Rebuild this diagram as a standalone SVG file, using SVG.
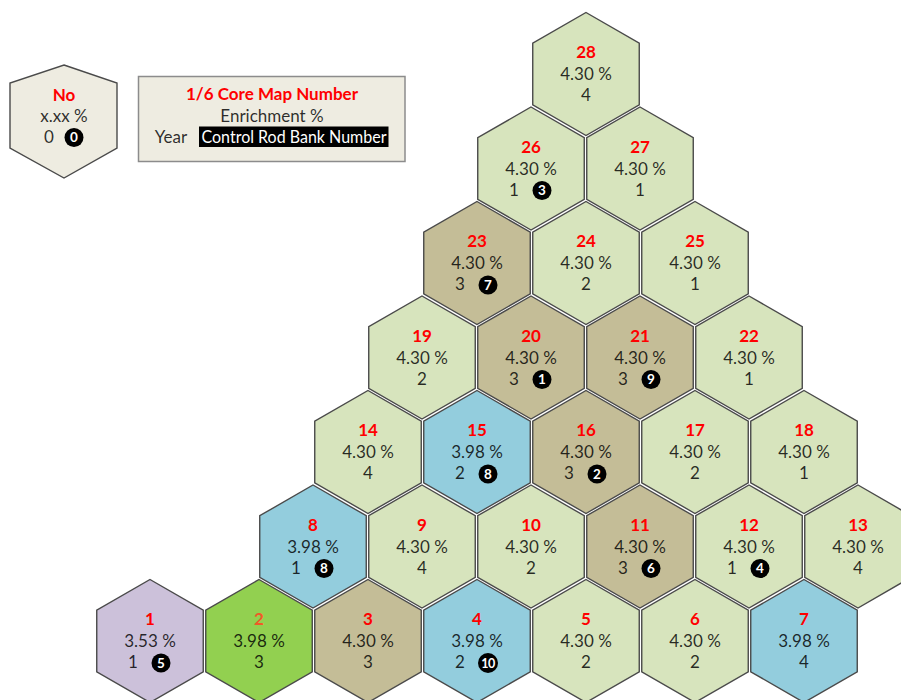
<svg xmlns="http://www.w3.org/2000/svg" xmlns:xlink="http://www.w3.org/1999/xlink" width="901" height="700" viewBox="0 0 901 700">
<style>
.h{stroke:#4a4a4a;stroke-width:1.4}
.lg{fill:#d7e4bd}.tn{fill:#c4bd97}.bl{fill:#93cddd}.pu{fill:#ccc1da}.gr{fill:#92d050}
text{font-family:Lato,"Open Sans","Liberation Sans",sans-serif;font-size:17px;text-anchor:middle}
.n{font-weight:bold;fill:#ff0000}
.t{fill:#000;fill-opacity:0.82}
.c{fill:#000}
.w{fill:#fff;font-weight:bold;font-size:13.5px}
</style>
<defs>
<polygon id="hx" class="h" points="0,-61.5 53.26,-30.75 53.26,30.75 0,61.5 -53.26,30.75 -53.26,-30.75"/>
</defs>
<rect width="901" height="700" fill="#fff"/>
<g id="legend-hex">
<polygon points="64,65 117,83 117,148 64,178 10,148 10,83" fill="#eeece1" stroke="#4a4a4a" stroke-width="1.4"/>
<text class="n" x="64" y="101">No</text>
<text class="t" x="64" y="122">x.xx %</text>
<text class="t" x="49" y="143">0</text>
<circle class="c" cx="74" cy="137.5" r="9.5"/>
<text class="w" x="74" y="142.3">0</text>
</g>
<g id="legend-box">
<rect x="138.5" y="76.5" width="266.5" height="85" fill="#eeece1" stroke="#8c8c8c" stroke-width="1.5"/>
<text class="n" x="272" y="99.5">1/6 Core Map Number</text>
<text class="t" x="272" y="121.5">Enrichment %</text>
<text class="t" x="171" y="143">Year</text>
<rect x="199" y="126.5" width="189.5" height="20.5" fill="#000"/>
<text x="294" y="143" fill="#fff" textLength="185" lengthAdjust="spacingAndGlyphs">Control Rod Bank Number</text>
</g>
<g id="connectors"></g>
<g id="hex1" transform="translate(150,641)"><use xlink:href="#hx" class="pu"/><text class="n" y="-16">1</text><text class="t" y="6">3.53 %</text><text class="t" x="-17" y="27">1</text><circle class="c" cx="11" cy="22" r="9.5"/><text class="w" x="11" y="26.8">5</text></g>
<g id="hex2" transform="translate(259,641)"><use xlink:href="#hx" class="gr"/><text class="n" y="-16" style="fill:#f05a28">2</text><text class="t" y="6">3.98 %</text><text class="t" y="27">3</text></g>
<g id="hex3" transform="translate(368,641)"><use xlink:href="#hx" class="tn"/><text class="n" y="-16">3</text><text class="t" y="6">4.30 %</text><text class="t" y="27">3</text></g>
<g id="hex4" transform="translate(477,641)"><use xlink:href="#hx" class="bl"/><text class="n" y="-16">4</text><text class="t" y="6">3.98 %</text><text class="t" x="-17" y="27">2</text><circle class="c" cx="11" cy="22" r="10"/><text class="w" x="11" y="26.5" style="font-size:12.5px;letter-spacing:-0.5px">10</text></g>
<g id="hex5" transform="translate(586,641)"><use xlink:href="#hx" class="lg"/><text class="n" y="-16">5</text><text class="t" y="6">4.30 %</text><text class="t" y="27">2</text></g>
<g id="hex6" transform="translate(695,641)"><use xlink:href="#hx" class="lg"/><text class="n" y="-16">6</text><text class="t" y="6">4.30 %</text><text class="t" y="27">2</text></g>
<g id="hex7" transform="translate(804,641)"><use xlink:href="#hx" class="bl"/><text class="n" y="-16">7</text><text class="t" y="6">3.98 %</text><text class="t" y="27">4</text></g>
<g id="hex8" transform="translate(313,546.5)"><use xlink:href="#hx" class="bl"/><text class="n" y="-16">8</text><text class="t" y="6">3.98 %</text><text class="t" x="-17" y="27">1</text><circle class="c" cx="11" cy="22" r="9.5"/><text class="w" x="11" y="26.8">8</text></g>
<g id="hex9" transform="translate(422,546.5)"><use xlink:href="#hx" class="lg"/><text class="n" y="-16">9</text><text class="t" y="6">4.30 %</text><text class="t" y="27">4</text></g>
<g id="hex10" transform="translate(531,546.5)"><use xlink:href="#hx" class="lg"/><text class="n" y="-16">10</text><text class="t" y="6">4.30 %</text><text class="t" y="27">2</text></g>
<g id="hex11" transform="translate(640,546.5)"><use xlink:href="#hx" class="tn"/><text class="n" y="-16">11</text><text class="t" y="6">4.30 %</text><text class="t" x="-17" y="27">3</text><circle class="c" cx="11" cy="22" r="9.5"/><text class="w" x="11" y="26.8">6</text></g>
<g id="hex12" transform="translate(749,546.5)"><use xlink:href="#hx" class="lg"/><text class="n" y="-16">12</text><text class="t" y="6">4.30 %</text><text class="t" x="-17" y="27">1</text><circle class="c" cx="11" cy="22" r="9.5"/><text class="w" x="11" y="26.8">4</text></g>
<g id="hex13" transform="translate(858,546.5)"><use xlink:href="#hx" class="lg"/><text class="n" y="-16">13</text><text class="t" y="6">4.30 %</text><text class="t" y="27">4</text></g>
<g id="hex14" transform="translate(368,452)"><use xlink:href="#hx" class="lg"/><text class="n" y="-16">14</text><text class="t" y="6">4.30 %</text><text class="t" y="27">4</text></g>
<g id="hex15" transform="translate(477,452)"><use xlink:href="#hx" class="bl"/><text class="n" y="-16">15</text><text class="t" y="6">3.98 %</text><text class="t" x="-17" y="27">2</text><circle class="c" cx="11" cy="22" r="9.5"/><text class="w" x="11" y="26.8">8</text></g>
<g id="hex16" transform="translate(586,452)"><use xlink:href="#hx" class="tn"/><text class="n" y="-16">16</text><text class="t" y="6">4.30 %</text><text class="t" x="-17" y="27">3</text><circle class="c" cx="11" cy="22" r="9.5"/><text class="w" x="11" y="26.8">2</text></g>
<g id="hex17" transform="translate(695,452)"><use xlink:href="#hx" class="lg"/><text class="n" y="-16">17</text><text class="t" y="6">4.30 %</text><text class="t" y="27">2</text></g>
<g id="hex18" transform="translate(804,452)"><use xlink:href="#hx" class="lg"/><text class="n" y="-16">18</text><text class="t" y="6">4.30 %</text><text class="t" y="27">1</text></g>
<g id="hex19" transform="translate(422,357.5)"><use xlink:href="#hx" class="lg"/><text class="n" y="-16">19</text><text class="t" y="6">4.30 %</text><text class="t" y="27">2</text></g>
<g id="hex20" transform="translate(531,357.5)"><use xlink:href="#hx" class="tn"/><text class="n" y="-16">20</text><text class="t" y="6">4.30 %</text><text class="t" x="-17" y="27">3</text><circle class="c" cx="11" cy="22" r="9.5"/><text class="w" x="11" y="26.8">1</text></g>
<g id="hex21" transform="translate(640,357.5)"><use xlink:href="#hx" class="tn"/><text class="n" y="-16">21</text><text class="t" y="6">4.30 %</text><text class="t" x="-17" y="27">3</text><circle class="c" cx="11" cy="22" r="9.5"/><text class="w" x="11" y="26.8">9</text></g>
<g id="hex22" transform="translate(749,357.5)"><use xlink:href="#hx" class="lg"/><text class="n" y="-16">22</text><text class="t" y="6">4.30 %</text><text class="t" y="27">1</text></g>
<g id="hex23" transform="translate(477,263)"><use xlink:href="#hx" class="tn"/><text class="n" y="-16">23</text><text class="t" y="6">4.30 %</text><text class="t" x="-17" y="27">3</text><circle class="c" cx="11" cy="22" r="9.5"/><text class="w" x="11" y="26.8">7</text></g>
<g id="hex24" transform="translate(586,263)"><use xlink:href="#hx" class="lg"/><text class="n" y="-16">24</text><text class="t" y="6">4.30 %</text><text class="t" y="27">2</text></g>
<g id="hex25" transform="translate(695,263)"><use xlink:href="#hx" class="lg"/><text class="n" y="-16">25</text><text class="t" y="6">4.30 %</text><text class="t" y="27">1</text></g>
<g id="hex26" transform="translate(531,168.5)"><use xlink:href="#hx" class="lg"/><text class="n" y="-16">26</text><text class="t" y="6">4.30 %</text><text class="t" x="-17" y="27">1</text><circle class="c" cx="11" cy="22" r="9.5"/><text class="w" x="11" y="26.8">3</text></g>
<g id="hex27" transform="translate(640,168.5)"><use xlink:href="#hx" class="lg"/><text class="n" y="-16">27</text><text class="t" y="6">4.30 %</text><text class="t" y="27">1</text></g>
<g id="hex28" transform="translate(586,74)"><use xlink:href="#hx" class="lg"/><text class="n" y="-16">28</text><text class="t" y="6">4.30 %</text><text class="t" y="27">4</text></g>
</svg>
